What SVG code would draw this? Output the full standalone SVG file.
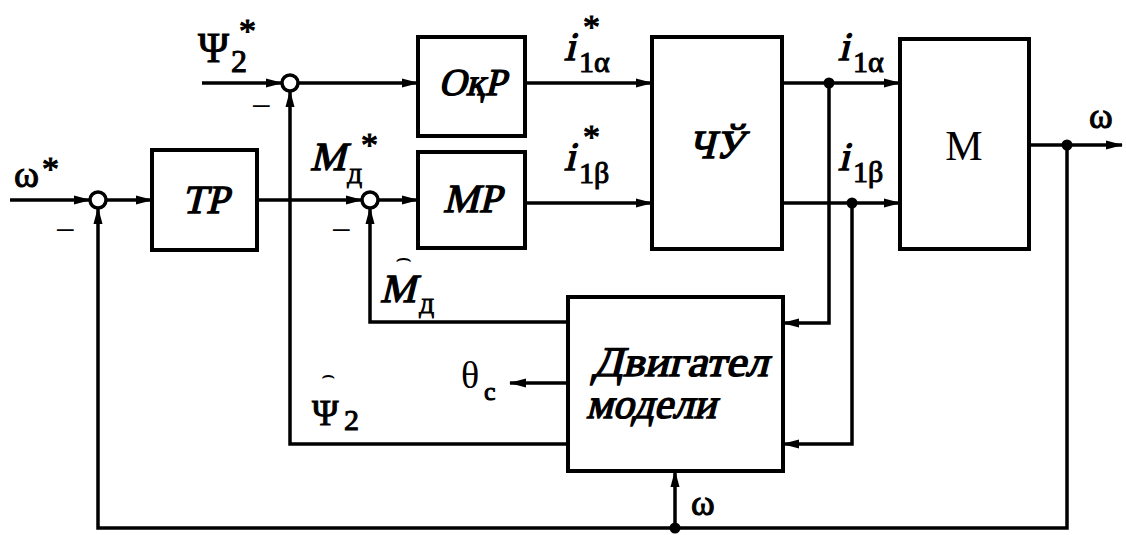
<svg xmlns="http://www.w3.org/2000/svg" width="1126" height="535" viewBox="0 0 1126 535">
<style>
.box{fill:#fff;stroke:#000;stroke-width:4}
.sum{fill:#fff;stroke:#000;stroke-width:3.5}
.ln{fill:none;stroke:#000;stroke-width:3.5;stroke-linejoin:miter}
.arr{marker-end:url(#ah)}
.dot{fill:#000}
.bi{font-family:"Liberation Serif",serif;font-style:normal;font-weight:normal;fill:#000;stroke:#000;stroke-width:1.4}
.b{font-family:"Liberation Serif",serif;font-weight:normal;fill:#000;stroke:#000;stroke-width:1}
.r{font-family:"Liberation Serif",serif;fill:#000}
.hat{font-family:"DejaVu Sans",sans-serif;fill:#000}
</style>
<defs>
<marker id="ah" markerWidth="17" markerHeight="10" refX="16" refY="5" orient="auto" markerUnits="userSpaceOnUse">
<path d="M0,0.5 L17,5 L0,9.5 Z" fill="#000"/>
</marker>
</defs>
<g id="connectors">
<path class="ln arr" d="M10,200 H90"/>
<path class="ln arr" d="M106,200 H152"/>
<path class="ln arr" d="M257,200 H362"/>
<path class="ln arr" d="M202,83 H282"/>
<path class="ln arr" d="M298,83 H418"/>
<path class="ln arr" d="M378,200 H418"/>
<path class="ln arr" d="M525,83 H652"/>
<path class="ln arr" d="M525,203 H652"/>
<path class="ln arr" d="M782,83 H900"/>
<path class="ln arr" d="M782,203 H900"/>
<path class="ln arr" d="M1029,145 H1122"/>
<path class="ln arr" d="M829,83 V323 H783"/>
<path class="ln arr" d="M852,203 V444 H783"/>
<path class="ln arr" d="M1067,145 V528 H98 V208"/>
<path class="ln arr" d="M675,528 V471"/>
<path class="ln arr" d="M568,322 H370 V208"/>
<path class="ln arr" d="M568,444 H290 V91"/>
<path class="ln arr" d="M568,383 H510"/>
<circle class="dot" cx="829" cy="83" r="5.5"/>
<circle class="dot" cx="852" cy="203" r="5.5"/>
<circle class="dot" cx="1067" cy="145" r="5.5"/>
<circle class="dot" cx="675" cy="528" r="5.5"/>
</g>
<g id="sum1"><circle class="sum" cx="98" cy="200" r="8"/></g>
<g id="sum2"><circle class="sum" cx="290" cy="83" r="8"/></g>
<g id="sum3"><circle class="sum" cx="370" cy="200" r="8"/></g>
<g id="TR"><rect class="box" x="152" y="150" width="105" height="100"/><text class="bi" transform="translate(205,213) skewX(-14)" font-size="40" text-anchor="middle">ТР</text></g>
<g id="OkR"><rect class="box" x="418" y="37" width="107" height="99"/><text class="bi" transform="translate(472,95) skewX(-14)" font-size="38" text-anchor="middle">ОқР</text></g>
<g id="MR"><rect class="box" x="418" y="152" width="107" height="96"/><text class="bi" transform="translate(472,212) skewX(-14)" font-size="40" text-anchor="middle">МР</text></g>
<g id="ChU"><rect class="box" x="652" y="37" width="130" height="212"/><text class="bi" transform="translate(716,158) skewX(-14)" font-size="40" text-anchor="middle">ЧЎ</text></g>
<g id="M"><rect class="box" x="900" y="39" width="129" height="210"/><text class="r" x="964" y="160" font-size="42" text-anchor="middle">М</text></g>
<g id="model"><rect class="box" x="568" y="297" width="215" height="174"/>
<text class="bi" transform="translate(592,376) skewX(-14)" font-size="42" textLength="176" lengthAdjust="spacingAndGlyphs">Двигател</text>
<text class="bi" transform="translate(586,418) skewX(-14)" font-size="42" textLength="130" lengthAdjust="spacingAndGlyphs">модели</text></g>
<g id="labels">
<text class="b" x="14" y="187" font-size="38">ω</text><text class="b" x="42" y="180" font-size="34">*</text>
<text class="r" x="55" y="242" font-size="36">−</text>
<text class="b" x="198" y="62" font-size="42">Ψ</text><text class="b" x="231" y="72" font-size="32">2</text><text class="b" x="239" y="42" font-size="34">*</text>
<text class="r" x="251" y="118" font-size="36">−</text>
<text class="bi" transform="translate(310,170) skewX(-14)" font-size="40">M</text><text class="b" x="347" y="183" font-size="22">Д</text><text class="b" x="361" y="156" font-size="34">*</text>
<text class="r" x="331" y="242" font-size="36">−</text>
<text class="bi" transform="translate(564,60) skewX(-14)" font-size="40">i</text><text class="b" x="579" y="72" font-size="30">1α</text><text class="b" x="583" y="38" font-size="34">*</text>
<text class="bi" transform="translate(564,170) skewX(-14)" font-size="40">i</text><text class="b" x="579" y="183" font-size="30">1β</text><text class="b" x="583" y="148" font-size="34">*</text>
<text class="bi" transform="translate(838,60) skewX(-14)" font-size="40">i</text><text class="b" x="853" y="72" font-size="30">1α</text>
<text class="bi" transform="translate(838,170) skewX(-14)" font-size="40">i</text><text class="b" x="853" y="182" font-size="30">1β</text>
<text class="b" x="1089" y="128" font-size="36">ω</text>
<text class="b" x="691" y="515" font-size="36">ω</text>
<text class="bi" transform="translate(380,302) skewX(-14)" font-size="40">M</text><text class="b" x="419" y="313" font-size="22">Д</text><text class="hat" x="403" y="266" font-size="26" text-anchor="middle">⌢</text>
<text class="b" x="312" y="425" font-size="36">Ψ</text><text class="b" x="344" y="430" font-size="30">2</text><text class="hat" x="328" y="382" font-size="22" text-anchor="middle">⌢</text>
<text class="r" x="461" y="388" font-size="38">θ</text><text class="b" x="484" y="400" font-size="26">c</text>
</g>
</svg>
